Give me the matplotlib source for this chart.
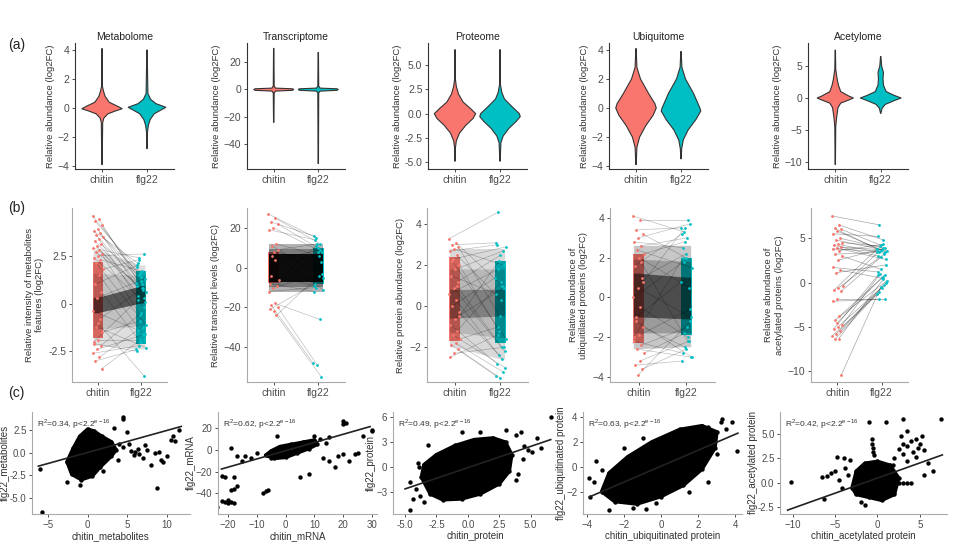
import numpy as np
import matplotlib
matplotlib.use("Agg")
import matplotlib.pyplot as plt

plt.rcParams['font.family'] = ['Liberation Sans', 'DejaVu Sans']

W, H = 963, 553
RED, TEAL = '#F8766D', '#00BFC4'
groups = ['chitin', 'flg22']

# ---------------- row (a): violin profiles (y, half width) ----------------
titles_a = ['Metabolome', 'Transcriptome', 'Proteome', 'Ubiquitome', 'Acetylome']

met_chitin_y = [-3.9, -1.0, -0.7, -0.4, -0.2, -0.05, 0.1, 0.4, 0.8, 1.2, 1.5, 4.1]
met_chitin_w = [0.004, 0.015, 0.04, 0.13, 0.3, 0.45, 0.36, 0.16, 0.07, 0.03, 0.01, 0.004]
met_flg22_y = [-2.8, -1.7, -1.2, -0.8, -0.4, -0.1, 0.05, 0.3, 0.6, 1.0, 4.0]
met_flg22_w = [0.004, 0.01, 0.03, 0.07, 0.16, 0.33, 0.42, 0.2, 0.08, 0.02, 0.004]

tra_chitin_y = [-24, -2.5, -1.2, -0.6, 0.0, 0.5, 1.0, 2.5, 30]
tra_chitin_w = [0.004, 0.01, 0.04, 0.42, 0.45, 0.42, 0.04, 0.01, 0.004]
tra_flg22_y = [-54, -2.5, -1.2, -0.6, 0.0, 0.5, 1.0, 2.5, 27]
tra_flg22_w = [0.004, 0.01, 0.04, 0.42, 0.45, 0.42, 0.04, 0.01, 0.004]

pro_chitin_y = [-4.9, -3.5, -2.8, -2.0, -1.2, -0.5, 0.0, 0.5, 1.2, 2.0, 2.8, 3.5, 6.6]
pro_chitin_w = [0.004, 0.01, 0.03, 0.1, 0.24, 0.4, 0.46, 0.35, 0.18, 0.08, 0.03, 0.01, 0.004]
pro_flg22_y = [-4.9, -3.0, -2.3, -1.5, -0.8, -0.3, 0.0, 0.8, 1.5, 2.2, 3.0, 6.6]
pro_flg22_w = [0.004, 0.02, 0.07, 0.2, 0.36, 0.45, 0.43, 0.25, 0.1, 0.04, 0.01, 0.004]

ubi_chitin_y = [-3.9, -2.7, -2.0, -1.2, -0.5, 0.0, 0.3, 1.0, 2.0, 2.8, 4.1]
ubi_chitin_w = [0.004, 0.02, 0.08, 0.22, 0.38, 0.45, 0.42, 0.28, 0.1, 0.02, 0.004]
ubi_flg22_y = [-3.5, -2.8, -2.2, -1.5, -0.8, -0.2, 0.0, 1.0, 2.0, 2.8, 3.9]
ubi_flg22_w = [0.004, 0.015, 0.05, 0.16, 0.33, 0.44, 0.42, 0.28, 0.1, 0.02, 0.004]

ace_chitin_y = [-10.4, -4.5, -3.0, -1.5, -0.8, -0.3, 0.0, 0.3, 1.0, 2.0, 3.0, 4.5, 7.5]
ace_chitin_w = [0.004, 0.01, 0.03, 0.06, 0.12, 0.3, 0.4, 0.3, 0.12, 0.07, 0.04, 0.01, 0.004]
ace_flg22_y = [-2.4, -1.6, -1.0, -0.4, 0.0, 0.4, 1.0, 2.0, 3.0, 4.0, 5.0, 6.5]
ace_flg22_w = [0.004, 0.03, 0.1, 0.3, 0.45, 0.3, 0.12, 0.06, 0.05, 0.06, 0.02, 0.004]

violins = [
    (met_chitin_y, met_chitin_w, met_flg22_y, met_flg22_w),
    (tra_chitin_y, tra_chitin_w, tra_flg22_y, tra_flg22_w),
    (pro_chitin_y, pro_chitin_w, pro_flg22_y, pro_flg22_w),
    (ubi_chitin_y, ubi_chitin_w, ubi_flg22_y, ubi_flg22_w),
    (ace_chitin_y, ace_chitin_w, ace_flg22_y, ace_flg22_w),
]
ylim_a = [(-4.2, 4.48), (-58, 33.9), (-5.7, 7.28), (-4.2, 4.48), (-11.1, 8.6)]
yticks_a = [[-4, -2, 0, 2, 4], [-40, -20, 0, 20], [-5, -2.5, 0, 2.5, 5],
            [-4, -2, 0, 2, 4], [-10, -5, 0, 5]]
ytl_a = [None, None, ['-5.0', '-2.5', '0.0', '2.5', '5.0'], None, None]

# ---------------- row (b): paired values (chitin, flg22) ----------------
ylabels_b = ['Relative intensity of metabolites\nfeatures (log2FC)',
             'Relative transcript levels (log2FC)',
             'Relative protein abundance (log2FC)',
             'Relative abundance of\nubiquitilated proteins (log2FC)',
             'Relative abundance of\nacetylated proteins (log2FC)']

met_pairs = [(4.6, 1.5), (4.4, 0.8), (4.3, 1.9), (4.1, 1.2), (3.9, 0.3), (3.8, 2.1), (3.7, 1.0),
             (3.6, 0.6), (3.5, 1.6), (3.4, -0.2), (3.3, 0.9), (3.1, 1.4), (3.0, 0.1), (2.9, 2.4),
             (2.8, 0.7), (2.7, 1.1), (2.6, -0.6), (2.5, 2.6), (2.4, 0.4), (2.3, 1.7), (2.1, -1.1),
             (1.8, 2.3), (1.5, -1.6), (1.0, 2.0), (0.6, -2.0), (0.3, 1.3), (-0.4, -1.4), (-0.8, 0.8),
             (-1.2, -2.3), (-1.5, -0.9), (-1.9, -1.9), (-2.1, -2.5), (-2.2, -0.5), (-2.4, -1.6),
             (-2.6, -2.2), (-2.8, -1.2), (-3.0, -2.4), (-3.4, -1.9), (-1.0, -3.8), (-2.0, 0.2)]
tra_pairs = [(27, 15), (25, 12), (23, 16), (22, 10), (20, 8), (19, 14), (12, 6), (11, -5), (9, 12),
             (8, 3), (-8, -12), (-9, 8), (-10, -3), (-12, -10), (-18, -26), (-19, -48), (-20, -49),
             (-22, -55), (-21, -8), (-24, -4), (6, -11), (-6, 11), (4, 9), (-4, -9)]
pro_pairs = [(3.3, 4.6), (3.1, 1.0), (3.0, 3.1), (2.9, -0.5), (2.8, 2.0), (2.7, 3.0), (2.5, 0.3),
             (2.3, 2.9), (2.0, -1.2), (1.8, 2.7), (1.5, 0.6), (1.2, 2.5), (0.9, -2.2), (0.6, 1.8),
             (0.3, -2.6), (0.0, 1.4), (-0.3, -2.4), (-0.6, 0.9), (-0.9, -2.8), (-1.2, 1.2),
             (-1.4, -3.0), (-1.6, -1.0), (-1.8, -3.2), (-1.9, -3.4), (-2.1, -3.5), (-2.3, -2.0),
             (-2.5, -1.4), (1.0, -2.0), (2.2, -1.6), (-0.5, 2.2)]
ubi_pairs = [(4.1, 3.3), (3.9, 3.9), (3.4, 3.5), (3.2, 2.0), (3.0, 3.7), (2.8, 2.5), (2.6, 3.0),
             (2.4, 1.5), (2.2, 2.8), (2.0, 0.5), (1.6, 3.2), (1.0, 2.2), (0.5, -1.0), (0.0, 1.8),
             (-0.5, -2.0), (-1.0, 0.8), (-1.5, -2.5), (-1.9, -0.6), (-2.2, -2.8), (-2.4, -1.5),
             (-2.6, -3.0), (-2.8, -1.8), (-3.2, -2.2), (-3.4, -3.2), (-3.6, -2.6), (-3.9, -1.2),
             (-2.0, 2.0), (1.8, -2.2), (-1.2, -3.0), (0.8, 3.5)]
ace_pairs = [(7.5, 6.5), (6.5, 4.8), (6.1, 3.8), (6.0, 4.2), (5.8, 3.5), (5.5, 5.2), (5.0, 3.9),
             (4.8, 3.6), (4.5, 4.1), (4.3, 3.3), (4.2, 3.0), (4.0, 3.7), (3.9, 2.6), (3.8, 3.5),
             (3.6, 4.3), (3.2, 3.4), (3.0, 1.5), (2.5, 3.9), (1.7, 1.2), (1.4, 0.5), (1.1, 2.0),
             (-0.4, 3.6), (-0.6, 3.2), (-0.8, 3.8), (-1.0, 2.9), (-1.8, -1.8), (-2.1, -1.9),
             (-3.8, 0.6), (-4.2, 0.2), (-4.8, 1.0), (-5.0, -0.3), (-5.2, 0.8), (-5.5, -0.6),
             (-5.8, 0.0), (-6.0, -1.1), (-6.3, 0.4), (-6.4, -1.3), (-10.4, -0.5), (-4.5, 0.9)]
pairs_b = [met_pairs, tra_pairs, pro_pairs, ubi_pairs, ace_pairs]

# dense jitter columns (lo, hi) and dense line bundles (chitin lo, chitin hi, flg22 lo, flg22 hi)
strip_chitin = [(-1.8, 2.2), (-7.5, 8), (-1.7, 2.4), (-2.3, 2.2), None]
strip_flg22 = [(-2.1, 1.7), (-8, 10), (-1.8, 2.2), (-1.9, 2.0), None]
haze_b = [(-2.2, 2.8, -2.4, 2.0), (-12, 12, -12, 12), (-2.0, 2.8, -2.6, 2.8), (-2.6, 2.6, -2.5, 2.6), None]
core_b = [(-0.5, 0.3, 0.0, 0.9), (-7, 7, -7, 7), (-0.6, 0.8, -0.5, 0.8), (-1.0, 1.2, -1.1, 1.0), None]

ylim_b = [(-4.1, 5.0), (-57.5, 30), (-3.7, 4.8), (-4.25, 4.5), (-11.2, 8.4)]
yticks_b = [[-2.5, 0, 2.5], [-40, -20, 0, 20], [-2, 0, 2, 4], [-4, -2, 0, 2, 4], [-10, -5, 0, 5]]
ytl_b = [['-2.5', '0', '2.5'], None, None, None, None]

# ---------------- row (c): scatter clouds, outliers, fitted lines ----------------
xlabels_c = ['chitin_metabolites', 'chitin_mRNA', 'chitin_protein',
             'chitin_ubiquitinated protein', 'chitin_acetylated protein']
ylabels_c = ['flg22_metabolites', 'flg22_mRNA', 'flg22_protein',
             'flg22_ubiquitinated protein', 'flg22_acetylated protein']
r2_values = ['0.34', '0.62', '0.49', '0.63', '0.42']

met_cloud = [(-2.0, -2.4), (-2.6, -1.0), (-1.8, 0.5), (-1.0, 1.8), (0.0, 2.6), (0.8, 2.4),
             (1.8, 1.8), (3.0, 1.2), (3.6, 0.3), (3.0, -0.4), (1.6, -1.6), (0.6, -2.6), (-0.8, -3.0)]
met_out = [(-6, -1.8), (-5.8, -6.6), (-2.6, -3.2), (-1.0, -3.6), (4.5, 3.9), (4.4, 3.7), (3.3, 2.7),
           (5.0, 2.3), (5.5, 0.2), (6.0, 0.1), (6.5, -0.2), (5.8, -0.3), (6.3, 0.4), (7.0, -0.6),
           (7.5, 0.3), (8.0, -1.4), (8.8, -3.9), (8.5, 0.0), (9.0, 0.1), (9.5, -1.0), (10.0, -0.4),
           (9.2, -0.8), (10.5, 1.4), (11.0, 1.3), (11.5, 2.5), (10.8, 1.8), (4.0, 1.0), (4.5, 0.6),
           (3.8, -0.8), (2.0, -2.0), (5.2, 1.0), (7.2, 0.8)]
tra_cloud = [(-7, -5), (-5, -1), (-2, 3), (2, 5), (6, 7), (10, 9), (11, 5), (8, 1), (4, -3),
             (0, -7), (-4, -8)]
tra_out = [(-24, -53), (-22, -47), (-21, -48), (-20, -49), (-19, -48), (-18, -49), (-20, -46),
           (-19, -37), (-18, -36), (-21, -25), (-22, -24), (-18, -25), (-17, -33), (-19, 2),
           (-17, -6), (-14, -6), (-12, -8), (-8, -40), (-7, -38), (-6, -37), (-5, -8), (-3, 13),
           (5, -25), (8, -22), (13, -8), (15, -10), (17, -16), (18, -6), (20, -4), (22, -10),
           (24, -4), (25, -3), (20, 26), (21, 25), (20, 24), (30, 17), (30, 18), (27, 13),
           (14, 6), (12, 10), (15, 12), (10, 13), (-10, -3), (-15, -10)]
pro_cloud = [(-3.7, -1.2), (-3.0, -3.2), (-2.0, -3.9), (-0.5, -3.8), (1.0, -3.2), (2.5, -2.0),
             (3.3, -0.5), (3.5, 1.5), (3.0, 3.0), (2.0, 3.5), (0.5, 3.3), (-1.0, 2.6), (-2.5, 1.5),
             (-3.5, 0.3)]
pro_out = [(-4.6, -5.1), (-4.4, -3.8), (-4.1, -2.6), (-4.6, -1.8), (-4.0, 0.5), (-3.9, 0.0),
           (-3.5, -4.2), (-3.2, 2.6), (-2.8, -3.0), (-0.5, 4.2), (1.0, 4.2), (3.0, 4.5), (3.8, 3.8),
           (4.2, 4.2), (4.5, 2.5), (5.1, 1.8), (4.8, 2.0), (5.8, 2.3), (4.0, -0.8), (3.8, -1.5),
           (6.6, 6.0), (5.5, 3.5), (4.4, 1.0), (-3.8, -3.5)]
ubi_cloud = [(-3.2, -2.0), (-2.5, -2.8), (-1.3, -3.0), (0.0, -2.4), (1.2, -1.5), (2.2, -0.2),
             (2.9, 1.5), (3.0, 2.8), (2.2, 3.3), (1.0, 3.0), (-0.5, 2.0), (-1.8, 0.8), (-2.8, -0.5)]
ubi_out = [(-3.8, -2.4), (-3.9, -0.9), (-3.6, -1.2), (-3.5, 0.5), (-3.2, -0.3), (-2.8, -3.5),
           (-1.0, 2.3), (-0.8, -3.4), (-0.3, -2.9), (2.5, 3.2), (3.2, 3.6), (3.5, 3.0), (3.8, 3.6),
           (4.1, 1.3), (3.0, 1.0), (2.5, -1.2), (1.5, -2.0), (-2.0, 1.5), (-1.5, -3.3), (3.3, 3.8)]
ace_cloud = [(-3.0, -0.5), (-2.5, 1.2), (-1.5, 2.0), (0.0, 2.2), (1.5, 1.8), (2.5, 0.5),
             (2.0, -1.2), (0.5, -1.8), (-1.0, -1.5), (-2.5, -1.2)]
ace_out = [(-10.2, 0.1), (-6.5, 0.6), (-6.0, 0.7), (-6.3, -1.7), (-5.5, 1.0), (-5.0, 1.2),
           (-4.8, 2.6), (-4.5, 0.3), (-4.0, 2.5), (-3.8, 1.5), (-3.5, 0.8), (-3.2, 2.3), (-4.2, -0.5),
           (-2.0, -2.0), (-1.5, -2.3), (-1.0, 6.2), (1.0, 6.2), (3.0, 6.5), (7.5, 6.5), (-0.6, 4.5),
           (-0.6, 4.0), (-0.5, 3.6), (-0.5, 3.2), (-0.4, 2.8), (0.5, 0.0), (1.0, 0.0), (1.5, 0.0),
           (2.0, 0.0), (2.5, 0.0), (3.0, 0.0), (3.5, 0.0), (4.0, 0.0), (2.5, 3.5), (3.0, 4.0),
           (3.5, 3.8), (4.0, 4.3), (4.5, 4.5), (5.0, 4.0), (3.5, 5.3), (2.8, 4.8), (4.2, 3.2),
           (5.5, 3.4), (6.5, 1.2), (5.5, 0.8), (6.0, 2.0), (2.0, 2.5), (3.0, 3.0), (4.5, 2.6),
           (1.8, 1.8), (3.5, 2.2), (4.8, 3.6), (5.2, 4.8)]
clouds_c = [met_cloud, tra_cloud, pro_cloud, ubi_cloud, ace_cloud]
outliers_c = [met_out, tra_out, pro_out, ubi_out, ace_out]
fit_x = [(-6.2, 11.8), (-22.3, 29.3), (-5.0, 6.6), (-3.86, 4.13), (-10.6, 7.65)]
fit_y = [(-1.5, 2.9), (-17.7, 21.3), (-2.6, 3.3), (-2.43, 2.7), (-2.8, 2.86)]

xlim_c = [(-7.0, 12.9), (-23.5, 31.7), (-5.96, 7.1), (-4.2, 4.35), (-11.5, 8.2)]
ylim_c = [(-6.8, 4.5), (-59, 34.7), (-5.6, 6.6), (-3.8, 4.4), (-3.2, 7.26)]
xticks_c = [[-5, 0, 5, 10], [-20, -10, 0, 10, 20, 30], [-5, -2.5, 0, 2.5, 5], [-4, -2, 0, 2, 4], [-10, -5, 0, 5]]
xtl_c = [None, None, ['-5.0', '-2.5', '0.0', '2.5', '5.0'], None, None]
yticks_c = [[-5, -2.5, 0, 2.5], [-40, -20, 0, 20], [-3, 0, 3, 6], [-2, 0, 2, 4], [-2.5, 0, 2.5, 5]]
ytl_c = [['-5.0', '-2.5', '0.0', '2.5'], None, None, None, ['-2.5', '0.0', '2.5', '5.0']]

# ---------------- layout (pixel boxes: left, top, right, bottom) ----------------
boxes_a = [(75, 43, 174, 169), (247, 43, 345, 169), (428, 43, 527, 169), (609, 43, 708, 169), (808, 43, 908, 169)]
boxes_b = [(72, 208, 167, 382), (247, 208, 345, 382), (427, 208, 528, 382), (610, 208, 715, 382), (811, 208, 908, 382)]
boxes_c = [(32, 412, 190, 514), (218, 412, 377, 514), (393, 412, 557, 514), (583, 412, 742, 514), (780, 412, 947, 514)]
core_alpha = [0.55, 0.9, 0.3, 0.5]
haze_alpha = [0.13, 0.3, 0.15, 0.22]

fig = plt.figure(figsize=(W / 100, H / 100), dpi=100)


def box(b):
    l, t, r, bt = b
    return fig.add_axes([l / W, 1 - bt / H, (r - l) / W, (bt - t) / H])


def style(ax, spine_col, size):
    for s in ['top', 'right']:
        ax.spines[s].set_visible(False)
    for s in ['left', 'bottom']:
        ax.spines[s].set_color(spine_col)
        ax.spines[s].set_linewidth(0.8)
    ax.tick_params(length=2.5, width=0.6, color='#333333', labelcolor='#4d4d4d',
                   labelsize=size, pad=1.5)


def bundle(ax, lo_hi, alpha):
    cl, ch, fl, fh = lo_hi
    ax.fill([0.9, 1, 2, 2.1, 2.1, 2, 1, 0.9], [cl, cl, fl, fl, fh, fh, ch, ch],
            color='k', alpha=alpha, lw=0)


# row (a)
for i in range(5):
    ax = box(boxes_a[i])
    cy, cw, fy, fw = violins[i]
    for x0, ys, ws, col in [(1, cy, cw, RED), (2, fy, fw, TEAL)]:
        ys, ws = np.array(ys), np.array(ws)
        ax.fill(np.concatenate([x0 - ws, (x0 + ws)[::-1]]), np.concatenate([ys, ys[::-1]]),
                fc=col, ec='#333333', lw=0.8)
    ax.set_xlim(0.4, 2.6)
    ax.set_ylim(*ylim_a[i])
    ax.set_xticks([1, 2])
    ax.set_xticklabels(groups)
    ax.set_yticks(yticks_a[i])
    if ytl_a[i]:
        ax.set_yticklabels(ytl_a[i])
    ax.set_title(titles_a[i], fontsize=7.5, pad=2, color='#222222')
    ax.set_ylabel('Relative abundance (log2FC)', fontsize=6.8, labelpad=2, color='#333333')
    style(ax, '#333333', 7.5)

# row (b)
for i in range(5):
    ax = box(boxes_b[i])
    pr = np.array(pairs_b[i], dtype=float)
    n = len(pr)
    jit = ((np.arange(n) * 0.618) % 1 - 0.5) * 0.24
    jit2 = ((np.arange(n) * 0.382 + 0.3) % 1 - 0.5) * 0.24
    if strip_chitin[i]:
        lo, hi = strip_chitin[i]
        ax.fill_between([0.88, 1.12], lo, hi, color=RED, lw=0)
        lo, hi = strip_flg22[i]
        ax.fill_between([1.88, 2.12], lo, hi, color=TEAL, lw=0)
    if haze_b[i]:
        bundle(ax, haze_b[i], haze_alpha[i])
        hz, cr = np.array(haze_b[i]), np.array(core_b[i])
        bundle(ax, tuple((hz + cr) / 2), haze_alpha[i])
        bundle(ax, core_b[i], core_alpha[i])
    for k in range(n):
        ax.plot([1 + jit[k], 2 + jit2[k]], pr[k], color='k', alpha=0.25 if i < 4 else 0.35, lw=0.5)
    ax.scatter(1 + jit, pr[:, 0], s=4, color=RED, lw=0, zorder=3)
    ax.scatter(2 + jit2, pr[:, 1], s=4, color=TEAL, lw=0, zorder=3)
    ax.set_xlim(0.4, 2.6)
    ax.set_ylim(*ylim_b[i])
    ax.set_xticks([1, 2])
    ax.set_xticklabels(groups)
    ax.set_yticks(yticks_b[i])
    if ytl_b[i]:
        ax.set_yticklabels(ytl_b[i])
    ax.set_ylabel(ylabels_b[i], fontsize=6.8, labelpad=3, color='#333333')
    style(ax, '#aaaaaa', 7.5)

# row (c)
for i in range(5):
    ax = box(boxes_c[i])
    cl = np.array(clouds_c[i])
    ax.fill(cl[:, 0], cl[:, 1], fc='k', ec='k', lw=2.5, joinstyle='round')
    ax.scatter(cl[:, 0], cl[:, 1], s=10, color='k', lw=0)
    out = np.array(outliers_c[i])
    ax.scatter(out[:, 0], out[:, 1], s=10, color='k', lw=0)
    ax.plot(fit_x[i], fit_y[i], color='#222222', lw=1.2)
    ax.set_xlim(*xlim_c[i])
    ax.set_ylim(*ylim_c[i])
    ax.set_xticks(xticks_c[i])
    if xtl_c[i]:
        ax.set_xticklabels(xtl_c[i])
    ax.set_yticks(yticks_c[i])
    if ytl_c[i]:
        ax.set_yticklabels(ytl_c[i])
    ax.set_xlabel(xlabels_c[i], fontsize=7, labelpad=1, color='#333333')
    ax.set_ylabel(ylabels_c[i], fontsize=7, labelpad=0, color='#333333')
    ax.text(0.03, 0.95, r'R$^\mathregular{2}$=' + r2_values[i] + r', p<2.2$^\mathregular{e-16}$',
            transform=ax.transAxes, fontsize=6, va='top', color='#333333')
    style(ax, '#aaaaaa', 7)

for lab, y in [('(a)', 45), ('(b)', 208), ('(c)', 393)]:
    fig.text(8 / W, 1 - y / H, lab, fontsize=10, va='center', color='#222222')

fig.savefig('out.png', dpi=100)
